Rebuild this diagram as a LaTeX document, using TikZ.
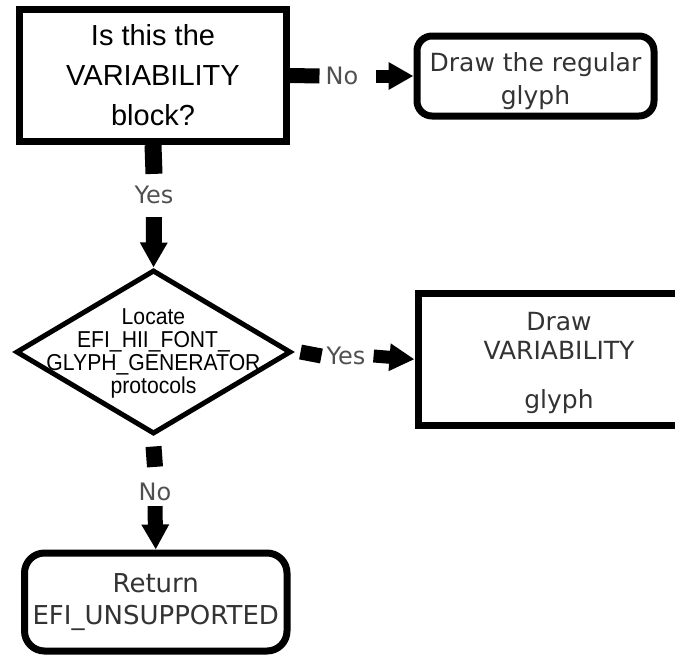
\documentclass[tikz,border=0pt]{standalone}
\usepackage{fontspec}
\setmainfont{Liberation Sans}
\newfontfamily\verd{DejaVu Sans}
\newfontfamily\narrowsans[FakeStretch=0.92]{Liberation Sans}
\usetikzlibrary{shapes.geometric,arrows.meta}
\definecolor{lblgray}{HTML}{505050}
\definecolor{txtgray}{HTML}{333333}
\begin{document}
\begin{tikzpicture}[x=1pt,y=-1pt,
  sqbox/.style={draw=black, line width=7pt, rectangle, inner sep=0pt, align=center},
  rndbox/.style={sqbox, rounded corners=15pt},
  bar/.style={line width=15pt, draw=black},
  arrowbar/.style={line width=13pt, draw=black, -{Triangle[length=25pt,width=26pt]}},
  lbl/.style={inner sep=0pt, text=lblgray, font=\verd\fontsize{24}{28}\selectfont},
]
\useasboundingbox (0,0) rectangle (675,656);
% boxes
\node[sqbox, minimum width=267pt, minimum height=132pt,
      font=\fontsize{29}{40}\selectfont] (b1) at (153,75.5)
      {Is this the\\VARIABILITY\\block?};
\node[rndbox, minimum width=237pt, minimum height=80pt, text=txtgray,
      font=\verd\fontsize{25}{33}\selectfont] (b2) at (535.5,76)
      {\rule{0pt}{29pt}Draw the regular\\glyph};
\node[diamond, draw=black, line width=5pt, miter limit=20, inner sep=0pt,
      minimum width=275pt, minimum height=164pt] (d) at (153.5,352) {};
\node[inner sep=0pt, align=center, font=\narrowsans\fontsize{23}{23}\selectfont] (dt) at (153.5,353)
      {Locate\\EFI\_HII\_FONT\_\\GLYPH\_GENERATOR\\protocols};
\node[sqbox, minimum width=282pt, minimum height=131.5pt, text=txtgray,
      font=\verd\fontsize{25}{29}\selectfont] (b3) at (559,359.25)
      {\rule{0pt}{26pt}Draw\\VARIABILITY\\[20pt]glyph};
\node[rndbox, rounded corners=20pt, minimum width=262.5pt, minimum height=98pt, text=txtgray,
      font=\verd\fontsize{26}{32}\selectfont] (b4) at (155.75,602)
      {Return\\EFI\_UNSUPPORTED};
% labels
\node[lbl] (l1) at (342,76) {No};
\node[lbl] (l2) at (154,195) {Yes};
\node[lbl] (l3) at (346,356) {Yes};
\node[lbl] (l4) at (155,492) {No};
% connectors
\draw[bar] (b1.east) -- ([xshift=-6pt]l1.west);
\draw[arrowbar] ([xshift=17pt]l1.east) -- (b2.west);
\draw[bar, line width=17pt] (b1.south) -- ([yshift=12pt]l2.north);
\draw[arrowbar, line width=16pt] ([yshift=-13pt]l2.south) -- (d.north);
\draw[bar] ([xshift=7pt]d.east) -- ([xshift=-5pt]l3.west);
\draw[arrowbar] ([xshift=8pt]l3.east) -- (b3.west);
\draw[bar, line width=16pt] ([yshift=-10pt]d.south) -- ([yshift=16pt]l4.north);
\draw[arrowbar, line width=15pt] ([yshift=-5pt]l4.south) -- (b4.north);
\end{tikzpicture}
\end{document}
